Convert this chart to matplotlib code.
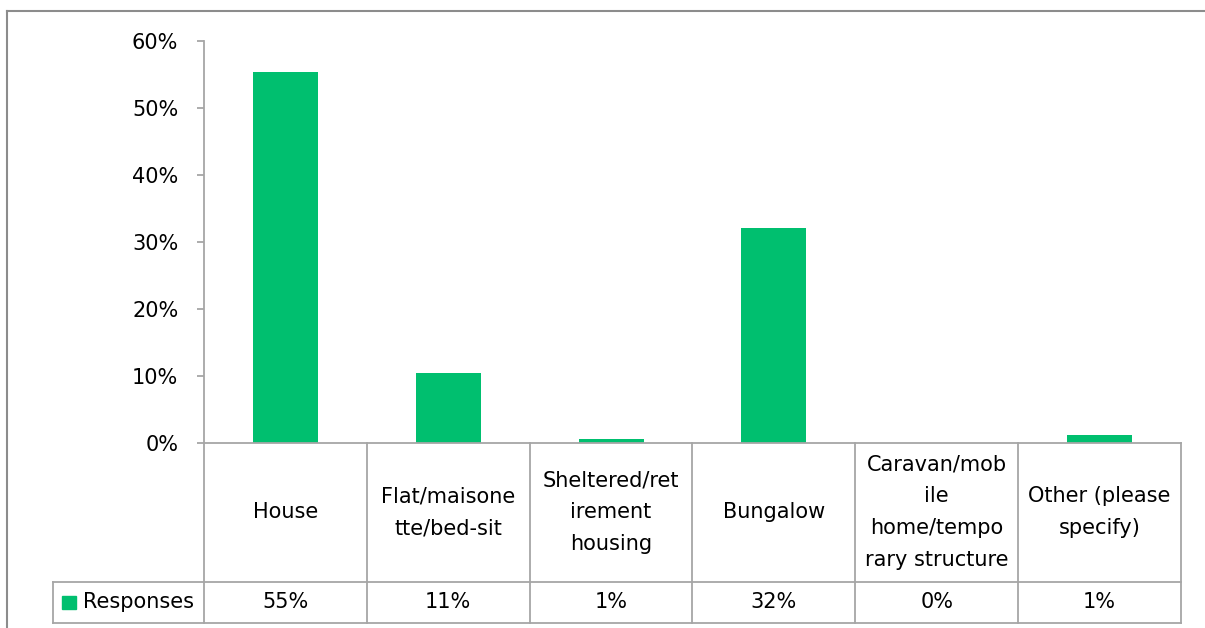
import matplotlib.pyplot as plt
from matplotlib.lines import Line2D
from matplotlib.patches import Rectangle
import matplotlib.transforms as mtransforms

plt.rcParams['font.family'] = ['DejaVu Sans']

categories = ['House', 'Flat/maisone\ntte/bed-sit', 'Sheltered/ret\nirement\nhousing',
              'Bungalow', 'Caravan/mob\nile\nhome/tempo\nrary structure', 'Other (please\nspecify)']
responses = [55.3, 10.5, 0.6, 32.1, 0.0, 1.2]
value_labels = ['55%', '11%', '1%', '32%', '0%', '1%']
yticks = [0, 10, 20, 30, 40, 50, 60]
series_name = 'Responses'

green = '#00BF6F'
grey = '#A6A6A6'
W, H = 1205, 628
fs = 15

fig = plt.figure(figsize=(W / 100, H / 100), dpi=100)
ax = fig.add_axes([204 / W, (H - 443) / H, (1181 - 204) / W, (443 - 41) / H])

x = range(len(categories))
ax.bar(x, responses, width=0.4, color=green, zorder=2)
ax.set_xlim(-0.5, len(categories) - 0.5)
ax.set_ylim(0, 60)
ax.set_yticks(yticks)
ax.set_yticklabels([f'{t}%' for t in yticks], fontsize=fs)
ax.set_xticks([])
for s in ['top', 'right']:
    ax.spines[s].set_visible(False)
ax.spines['left'].set_color(grey)
ax.spines['bottom'].set_color(grey)
ax.spines['left'].set_linewidth(1.3)
ax.spines['bottom'].set_linewidth(1.3)
ax.tick_params(axis='y', length=5, color=grey, width=1.3, pad=13.5)

# data table under the axis (x in data units, y in axes fraction)
tr = mtransforms.blended_transform_factory(ax.transData, ax.transAxes)
row1 = -(582 - 443) / 402
row2 = -(623 - 443) / 402
left_edge = -0.5 - (204 - 53) / (977 / 6)
n = len(categories)
kw = dict(transform=tr, color=grey, lw=1.3, clip_on=False)
for i in range(n + 1):
    ax.add_line(Line2D([i - 0.5, i - 0.5], [0, row2], **kw))
ax.add_line(Line2D([left_edge, n - 0.5], [row1, row1], **kw))
ax.add_line(Line2D([left_edge, n - 0.5], [row2, row2], **kw))
ax.add_line(Line2D([left_edge, left_edge], [row1, row2], **kw))

for i, (c, v) in enumerate(zip(categories, value_labels)):
    ax.text(i, row1 / 2, c, transform=tr, ha='center', va='center',
            fontsize=fs, linespacing=1.75)
    ax.text(i, (row1 + row2) / 2, v, transform=tr, ha='center', va='center', fontsize=fs)

# legend key in the table
ax.add_patch(Rectangle((left_edge + 9 / 162.8, row1 - 14 / 402), 14 / 162.8, -13 / 402,
                       transform=tr, color=green, clip_on=False))
ax.text(left_edge + 30 / 162.8, (row1 + row2) / 2, series_name, transform=tr,
        ha='left', va='center', fontsize=fs)

# outer chart frame
fig.add_artist(Line2D([7 / W, 7 / W], [0, 1 - 11 / H], transform=fig.transFigure, color='#8C8C8C', lw=1.5))
fig.add_artist(Line2D([7 / W, 1], [1 - 11 / H, 1 - 11 / H], transform=fig.transFigure, color='#8C8C8C', lw=1.5))

fig.savefig('out.png', dpi=100)
